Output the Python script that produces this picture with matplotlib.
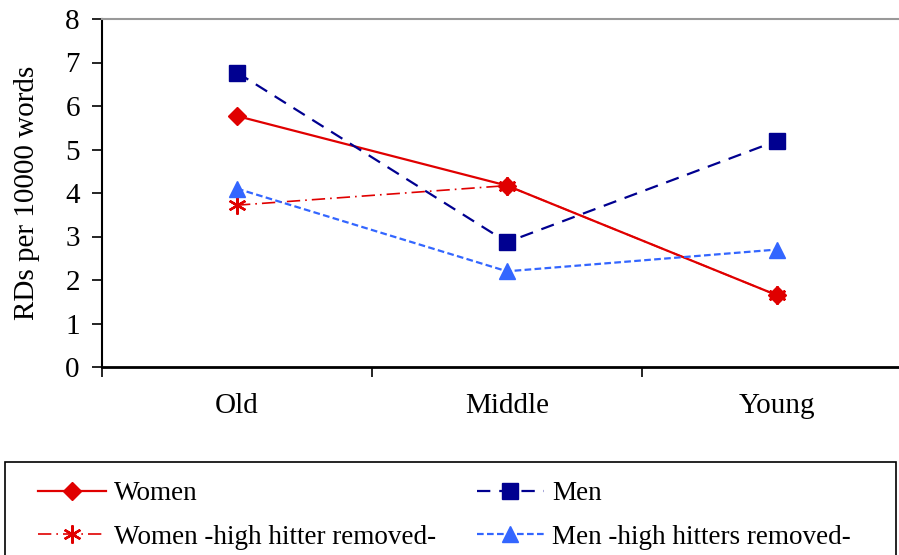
import numpy as np
import matplotlib.pyplot as plt
from matplotlib.patches import Rectangle

plt.rcParams['font.family'] = ['Liberation Serif', 'DejaVu Serif']

groups = ['Old', 'Middle', 'Young']
women = [5.77, 4.17, 1.65]
men = [6.77, 2.87, 5.2]
women_hh = [3.72, 4.17, 1.65]
men_hh = [4.1, 2.2, 2.7]

fig = plt.figure(figsize=(8.99, 5.55), dpi=100)
ax = fig.add_axes([102/899, 1 - 367/555, 1 - 102/899, 348/555])

x = np.arange(len(groups))
l1, = ax.plot(x, women, color='#e00000', lw=1.6, marker='D', ms=9,
              label='Women')
l2, = ax.plot(x, men, color='#000090', lw=1.6, ls=(0, (6, 4)), marker='s', ms=11,
              label='Men')
l3, = ax.plot(x, women_hh, color='#e00000', lw=1.2, ls=(0, (8, 3, 1, 3)),
              marker=(6, 2, 0), ms=13, mew=1.7, label='Women -high hitter removed-')
l4, = ax.plot(x, men_hh, color='#3366ff', lw=1.6, ls=(0, (3, 1.5)), marker='^',
              ms=12, label='Men -high hitters removed-')

ax.set_yticks(range(9))
ax.set_xticks(x)
ax.set_xticklabels(groups)
ax.set_xticks([-0.5, 0.5, 1.5, 2.5], minor=True)
# set limits after the ticks, otherwise set_xticks widens them
ax.set_ylim(0, 8)
ax.set_xlim(-0.5, 2.5 - 13/270)
ax.tick_params(axis='x', which='major', length=0, pad=19, labelsize=21)
ax.tick_params(axis='x', which='minor', length=7, width=1.2, direction='out')
ax.tick_params(axis='y', length=7, width=1.2, direction='out', labelsize=21, pad=9)
ax.set_ylabel('RDs per 10000 words', fontsize=21, labelpad=18)

ax.spines['right'].set_visible(False)
ax.spines['top'].set_color('#999999')
ax.spines['top'].set_linewidth(1.5)
ax.spines['left'].set_linewidth(1.5)
ax.spines['bottom'].set_linewidth(2)

# legend box runs off the bottom of the figure
fig.patches.append(Rectangle((5/899, -0.05), 891/899, 0.05 + 1 - 462/555,
                             transform=fig.transFigure, fill=False,
                             edgecolor='black', lw=1.2))

# row-major order like the original: Women, Men / Women HH, Men HH
leg = fig.legend([l1, l3, l2, l4], [l.get_label() for l in (l1, l3, l2, l4)],
                 loc='upper left', bbox_to_anchor=(38/899, 1 - 481/555),
                 ncol=2, fontsize=19.5, frameon=False,
                 handlelength=2.5, columnspacing=1.5,
                 labelspacing=0.7, borderpad=0, borderaxespad=0,
                 handletextpad=0.3)

fig.savefig('out.png', dpi=100)
